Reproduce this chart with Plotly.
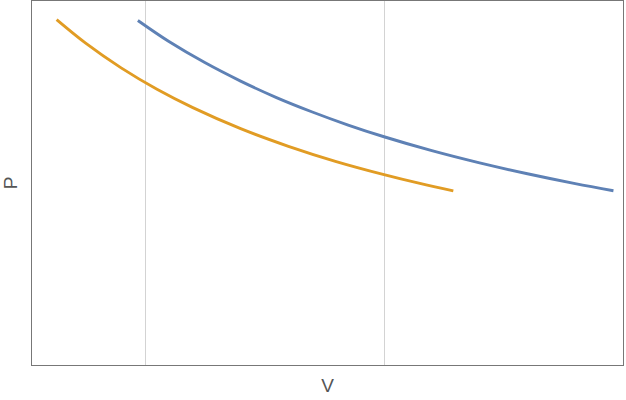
import plotly.graph_objects as go

# Blue isotherm
blue_v = [1.97, 2.1, 2.25, 2.4, 2.55, 2.7, 2.85, 3.0, 3.2, 3.4, 3.6, 3.8, 3.96]
blue_p = [1.995, 1.871, 1.747, 1.638, 1.541, 1.456, 1.379, 1.310, 1.228, 1.156, 1.092, 1.034, 0.992]

# Orange isotherm
orange_v = [1.63, 1.75, 1.9, 2.05, 2.2, 2.4, 2.6, 2.8, 3.0, 3.15, 3.29]
orange_p = [2.000, 1.863, 1.716, 1.590, 1.482, 1.358, 1.254, 1.164, 1.087, 1.035, 0.991]

grid_v = [2, 3, 4]

fig = go.Figure()
fig.add_trace(go.Scatter(x=blue_v, y=blue_p, mode="lines", line=dict(color="#5E81B5", width=2.9, shape="spline"), showlegend=False))
fig.add_trace(go.Scatter(x=orange_v, y=orange_p, mode="lines", line=dict(color="#E19C24", width=2.9, shape="spline"), showlegend=False))

fig.update_layout(
    width=626, height=400,
    margin=dict(l=32, r=3, t=1, b=35),
    paper_bgcolor="white", plot_bgcolor="white",
    font=dict(family="Liberation Sans, Arial, sans-serif", color="#555555", size=16),
    xaxis=dict(range=[1.527, 4.0], tickvals=grid_v, showticklabels=False, ticks="",
               showgrid=True, gridcolor="#d3d3d3", gridwidth=1, zeroline=False,
               showline=True, linecolor="#777777", linewidth=1, mirror=True,
               title=dict(text="V", standoff=13), automargin=False),
    yaxis=dict(range=[-0.035, 2.11], showticklabels=False, ticks="", showgrid=False, zeroline=False,
               showline=True, linecolor="#777777", linewidth=1, mirror=True,
               title=dict(text="P", standoff=8), automargin=False),
)
fig.write_html("out.html", config={"displayModeBar": False}, post_script="document.body.style.margin='0';")
